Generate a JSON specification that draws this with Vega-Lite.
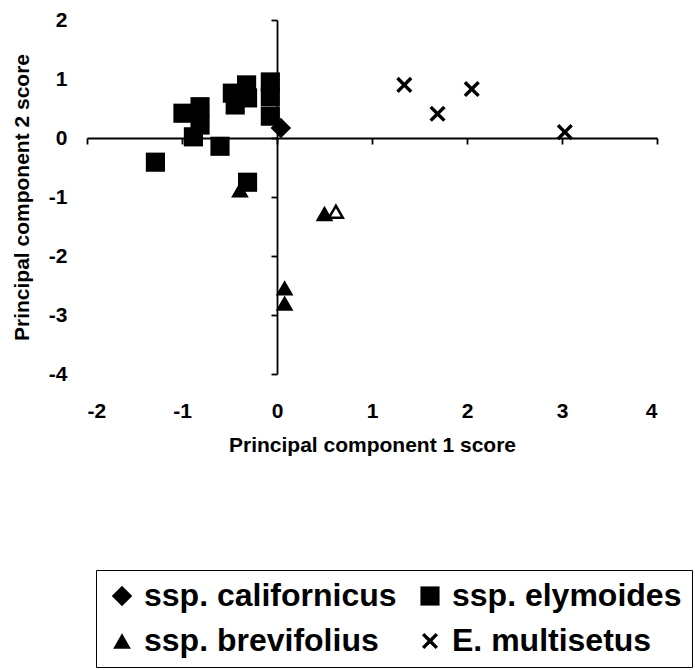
{
  "$schema": "https://vega.github.io/schema/vega-lite/v6.json",
  "autosize": "none",
  "width": 570,
  "height": 354,
  "padding": {"left": 87, "top": 20, "right": 38, "bottom": 296},
  "background": "white",
  "config": {
    "view": {"stroke": null},
    "font": "Liberation Sans",
    "axis": {"grid": false, "labelFont": "Liberation Sans", "titleFont": "Liberation Sans", "labelColor": "black", "titleColor": "black", "domainColor": "black", "tickColor": "black"}
  },
  "data": {
    "values": [
      {"species": "ssp. californicus", "pc1": 0.04, "pc2": 0.17, "marker": "solid"},
      {"species": "ssp. elymoides", "pc1": -1.28, "pc2": -0.41, "marker": "solid"},
      {"species": "ssp. elymoides", "pc1": -0.99, "pc2": 0.42, "marker": "solid"},
      {"species": "ssp. elymoides", "pc1": -0.81, "pc2": 0.53, "marker": "solid"},
      {"species": "ssp. elymoides", "pc1": -0.81, "pc2": 0.22, "marker": "solid"},
      {"species": "ssp. elymoides", "pc1": -0.88, "pc2": 0.02, "marker": "solid"},
      {"species": "ssp. elymoides", "pc1": -0.6, "pc2": -0.14, "marker": "solid"},
      {"species": "ssp. elymoides", "pc1": -0.47, "pc2": 0.76, "marker": "solid"},
      {"species": "ssp. elymoides", "pc1": -0.32, "pc2": 0.9, "marker": "solid"},
      {"species": "ssp. elymoides", "pc1": -0.31, "pc2": 0.68, "marker": "solid"},
      {"species": "ssp. elymoides", "pc1": -0.44, "pc2": 0.56, "marker": "solid"},
      {"species": "ssp. elymoides", "pc1": -0.07, "pc2": 0.95, "marker": "solid"},
      {"species": "ssp. elymoides", "pc1": -0.07, "pc2": 0.7, "marker": "solid"},
      {"species": "ssp. elymoides", "pc1": -0.07, "pc2": 0.37, "marker": "solid"},
      {"species": "ssp. elymoides", "pc1": -0.31, "pc2": -0.75, "marker": "solid"},
      {"species": "ssp. brevifolius", "pc1": -0.39, "pc2": -0.88, "marker": "solid"},
      {"species": "ssp. brevifolius", "pc1": 0.5, "pc2": -1.28, "marker": "solid"},
      {"species": "ssp. brevifolius", "pc1": 0.08, "pc2": -2.54, "marker": "solid"},
      {"species": "ssp. brevifolius", "pc1": 0.08, "pc2": -2.8, "marker": "solid"},
      {"species": "ssp. brevifolius", "pc1": 0.62, "pc2": -1.25, "marker": "open"},
      {"species": "E. multisetus", "pc1": 1.34, "pc2": 0.9, "marker": "solid"},
      {"species": "E. multisetus", "pc1": 1.69, "pc2": 0.41, "marker": "solid"},
      {"species": "E. multisetus", "pc1": 2.05, "pc2": 0.83, "marker": "solid"},
      {"species": "E. multisetus", "pc1": 3.03, "pc2": 0.1, "marker": "solid"}
    ]
  },
  "resolve": {"axis": {"x": "independent", "y": "independent"}},
  "layer": [
    {
      "transform": [{"filter": "datum.marker === 'solid'"}],
      "mark": {"type": "point", "filled": true, "opacity": 1, "color": "black"},
      "encoding": {
        "x": {
          "field": "pc1", "type": "quantitative",
          "scale": {"domain": [-2, 4], "nice": false, "zero": false},
          "axis": {"orient": "bottom", "values": [-2, -1, 0, 1, 2, 3, 4], "labelExpr": "'' + datum.value", "domain": false, "ticks": false, "labelPadding": 26, "labelFontSize": 21, "labelFontWeight": "bold", "title": "Principal component 1 score", "titleFontSize": 21, "titleFontWeight": "bold", "titlePadding": 13}
        },
        "y": {
          "field": "pc2", "type": "quantitative",
          "scale": {"domain": [-4, 2], "nice": false, "zero": false},
          "axis": {"orient": "left", "values": [-4, -3, -2, -1, 0, 1, 2], "labelExpr": "'' + datum.value", "domain": false, "ticks": false, "labelPadding": 20, "labelFontSize": 21, "labelFontWeight": "bold", "title": "Principal component 2 score", "titleFontSize": 21, "titleFontWeight": "bold", "titlePadding": 16}
        },
        "shape": {
          "field": "species", "type": "nominal",
          "sort": ["ssp. californicus", "ssp. elymoides", "ssp. brevifolius", "E. multisetus"],
          "scale": {
            "domain": ["ssp. californicus", "ssp. elymoides", "ssp. brevifolius", "E. multisetus"],
            "range": ["diamond", "square", "triangle-up", "M-1,-0.7L-0.7,-1L0,-0.3L0.7,-1L1,-0.7L0.3,0L1,0.7L0.7,1L0,0.3L-0.7,1L-1,0.7L-0.3,0Z"]
          },
          "legend": {
            "title": null, "orient": "none", "legendX": 9, "legendY": 550,
            "direction": "horizontal", "columns": 2,
            "strokeColor": "black", "fillColor": "white", "padding": 10,
            "labelFont": "Liberation Sans", "labelFontSize": 32, "labelFontWeight": "bold", "labelColor": "black", "labelLimit": 500,
            "labelOffset": 6, "symbolFillColor": "black", "symbolStrokeColor": "black",
            "rowPadding": 13, "columnPadding": 17,
            "encode": {"legend": {"update": {"strokeWidth": {"value": 1.5}}}}
          }
        },
        "size": {
          "field": "species", "type": "nominal",
          "sort": ["ssp. californicus", "ssp. elymoides", "ssp. brevifolius", "E. multisetus"],
          "scale": {
            "domain": ["ssp. californicus", "ssp. elymoides", "ssp. brevifolius", "E. multisetus"],
            "range": [420, 260, 250, 290]
          }
        }
      }
    },
    {
      "transform": [{"filter": "datum.marker === 'open'"}],
      "mark": {"type": "point", "shape": "triangle-up", "filled": true, "fill": "white", "stroke": "black", "strokeWidth": 2.5, "size": 190, "opacity": 1},
      "encoding": {
        "x": {
          "field": "pc1", "type": "quantitative",
          "axis": {"orient": "bottom", "offset": -236, "values": [-2, -1, 0, 1, 2, 3, 4], "labels": false, "title": null, "domain": true, "domainWidth": 1.8, "ticks": true, "tickSize": 6, "tickWidth": 1.8}
        },
        "y": {
          "field": "pc2", "type": "quantitative",
          "axis": {"orient": "left", "offset": -190, "values": [-4, -3, -2, -1, 0, 1, 2], "labels": false, "title": null, "domain": true, "domainWidth": 1.8, "ticks": true, "tickSize": 6, "tickWidth": 1.8}
        }
      }
    }
  ]
}
